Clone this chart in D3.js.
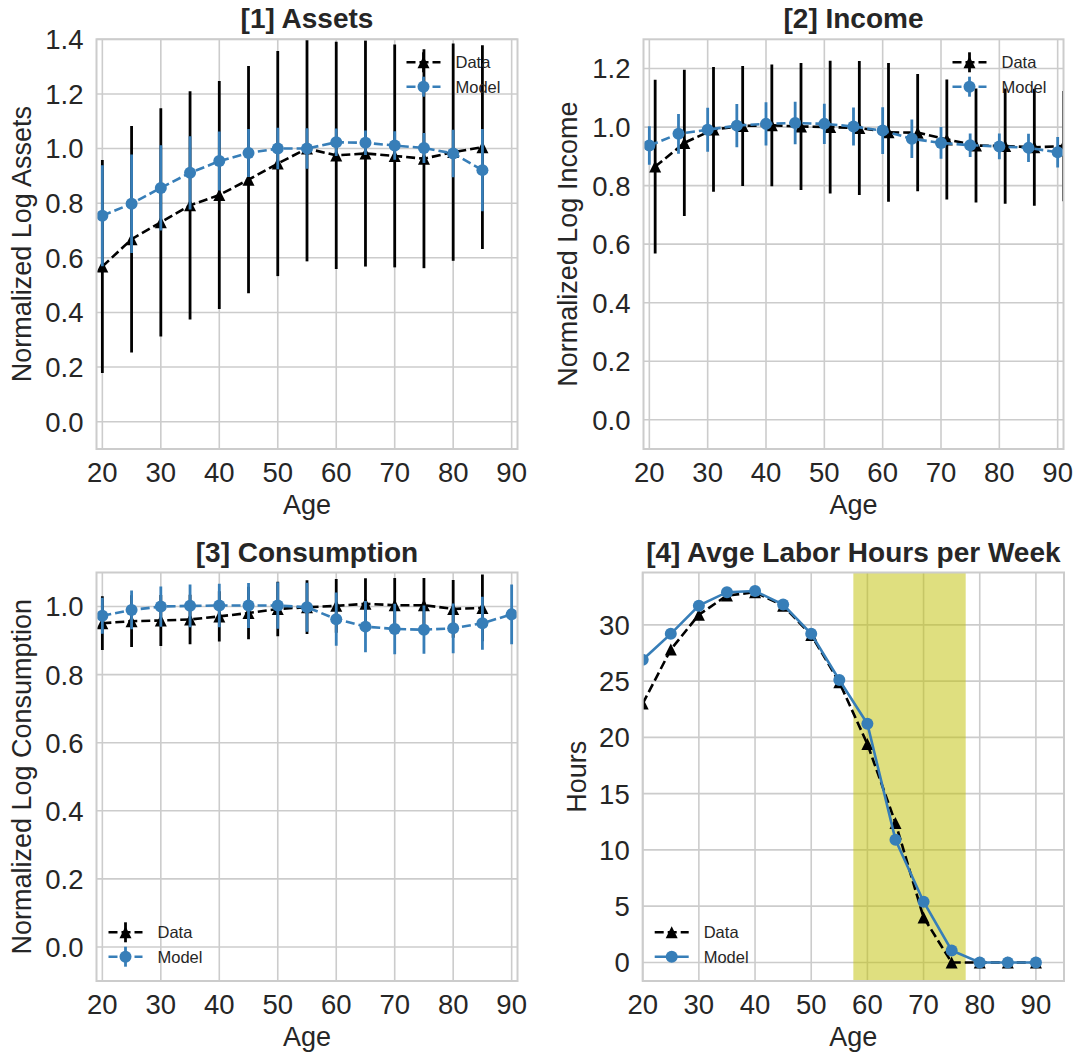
<!DOCTYPE html>
<html>
<head>
<meta charset="utf-8">
<script src="https://cdn.jsdelivr.net/npm/d3@7"></script>
<style>
  body { margin: 0; background: #fff; }
  text { font-family: "Liberation Sans", Arial, sans-serif; fill: #262626; }
</style>
</head>
<body>
<svg id="chart" width="1077" height="1053"></svg>
<script>
// ---- data ----
var ages = [20, 25, 30, 35, 40, 45, 50, 55, 60, 65, 70, 75, 80, 85];
var agesFull = [20, 25, 30, 35, 40, 45, 50, 55, 60, 65, 70, 75, 80, 85, 90];
var incomeDataAges = [21, 26, 31, 36, 41, 46, 51, 56, 61, 66, 71, 76, 81, 86, 91];
var xTicks = [20, 30, 40, 50, 60, 70, 80, 90];

var assetsData    = [0.568, 0.668, 0.730, 0.792, 0.830, 0.886, 0.945, 1.000, 0.975, 0.982, 0.973, 0.963, 0.987, 1.005];
var assetsDataErr = [0.390, 0.415, 0.418, 0.418, 0.417, 0.416, 0.412, 0.413, 0.416, 0.414, 0.408, 0.401, 0.398, 0.373];
var assetsModel    = [0.754, 0.798, 0.856, 0.911, 0.954, 0.984, 1.000, 1.000, 1.023, 1.021, 1.011, 1.002, 0.982, 0.921];
var assetsModelErr = [0.185, 0.180, 0.156, 0.134, 0.108, 0.088, 0.076, 0.074, 0.050, 0.045, 0.052, 0.055, 0.087, 0.151];
var assetsTicks = [0, 0.2, 0.4, 0.6, 0.8, 1.0, 1.2, 1.4];

var incomeData    = [0.865, 0.946, 0.992, 1.004, 1.006, 1.002, 1.000, 0.997, 0.982, 0.981, 0.958, 0.937, 0.935, 0.931, 0.935];
var incomeDataErr = [0.297, 0.250, 0.213, 0.205, 0.208, 0.217, 0.227, 0.229, 0.237, 0.200, 0.205, 0.195, 0.197, 0.200, 0.188];
var incomeModel    = [0.937, 0.977, 0.991, 1.005, 1.011, 1.014, 1.011, 1.002, 0.988, 0.960, 0.946, 0.938, 0.934, 0.929, 0.914];
var incomeModelErr = [0.066, 0.068, 0.075, 0.074, 0.074, 0.073, 0.069, 0.065, 0.080, 0.066, 0.054, 0.040, 0.044, 0.048, 0.052];
var incomeTicks = [0, 0.2, 0.4, 0.6, 0.8, 1.0, 1.2];

var consData    = [0.951, 0.957, 0.959, 0.962, 0.971, 0.981, 0.993, 0.998, 1.002, 1.008, 1.004, 1.004, 0.993, 0.996];
var consDataErr = [0.079, 0.076, 0.075, 0.073, 0.074, 0.077, 0.080, 0.079, 0.079, 0.075, 0.080, 0.080, 0.085, 0.098];
var consModel    = [0.973, 0.990, 1.000, 1.002, 1.003, 1.003, 1.003, 0.998, 0.963, 0.941, 0.934, 0.932, 0.936, 0.951, 0.977];
var consModelErr = [0.053, 0.057, 0.059, 0.063, 0.064, 0.066, 0.068, 0.072, 0.078, 0.075, 0.074, 0.071, 0.073, 0.078, 0.088];
var consTicks = [0, 0.2, 0.4, 0.6, 0.8, 1.0];

var hoursData  = [23.0, 27.8, 30.9, 32.6, 32.9, 31.7, 29.1, 24.9, 19.4, 12.4, 4.0, 0, 0, 0, 0];
var hoursModel = [26.9, 29.2, 31.7, 32.9, 33.0, 31.8, 29.2, 25.1, 21.2, 10.9, 5.4, 1.07, 0, 0, 0];
var hoursTicks = [0, 5, 10, 15, 20, 25, 30];
var retireSpan = [57.5, 77.5];

var seriesNames = ['Data', 'Model'];

// ---- style ----
var blue = '#377eb8';
var gridColor = '#cccccc';
var tickSize = '27.5px', labelSize = '27px', titleSize = '28px', legendSize = '16.5px';
var svg = d3.select('#chart');
svg.append('rect').attr('width', 1077).attr('height', 1053).attr('fill', '#fff');

function triPath(s) {
	return 'M0,' + (-s) + 'L' + s + ',' + s + 'L' + (-s) + ',' + s + 'Z';
}

var panelId = 0;
function drawPanel(cfg) {
	panelId++;
	var w = cfg.w, h = cfg.h;
	var g = svg.append('g').attr('transform', 'translate(' + cfg.left + ',' + cfg.top + ')');
	var x = d3.scaleLinear().domain(cfg.xDomain).range([0, w]);
	var y = d3.scaleLinear().domain(cfg.yDomain).range([h, 0]);

	var clipId = 'clip' + panelId;
	g.append('clipPath').attr('id', clipId)
		.append('rect').attr('width', w).attr('height', h);

	// grid
	g.append('g').selectAll('line').data(xTicks).enter().append('line')
		.attr('x1', function(d) { return x(d); }).attr('x2', function(d) { return x(d); })
		.attr('y1', 0).attr('y2', h)
		.attr('stroke', gridColor).attr('stroke-width', 1.6);
	g.append('g').selectAll('line').data(cfg.yTicks).enter().append('line')
		.attr('y1', function(d) { return y(d); }).attr('y2', function(d) { return y(d); })
		.attr('x1', 0).attr('x2', w)
		.attr('stroke', gridColor).attr('stroke-width', 1.6);

	// tick labels
	g.append('g').selectAll('text').data(xTicks).enter().append('text')
		.attr('x', function(d) { return x(d); }).attr('y', h + 33)
		.attr('text-anchor', 'middle').style('font-size', tickSize)
		.text(function(d) { return d; });
	g.append('g').selectAll('text').data(cfg.yTicks).enter().append('text')
		.attr('x', -13).attr('y', function(d) { return y(d); })
		.attr('dy', '0.36em')
		.attr('text-anchor', 'end').style('font-size', tickSize)
		.text(cfg.yFormat);

	// axis labels + title
	g.append('text').attr('x', w / 2).attr('y', h + 65)
		.attr('text-anchor', 'middle').style('font-size', labelSize).text('Age');
	g.append('text')
		.attr('transform', 'translate(' + (-cfg.yLabelOff) + ',' + (h / 2) + ') rotate(-90)')
		.attr('dy', '0.36em')
		.attr('text-anchor', 'middle').style('font-size', labelSize).text(cfg.yLabel);
	g.append('text').attr('x', w / 2).attr('y', -11)
		.attr('text-anchor', 'middle').style('font-size', titleSize).style('font-weight', 'bold')
		.text(cfg.title);

	var plot = g.append('g').attr('clip-path', 'url(#' + clipId + ')');

	if (cfg.span) {
		plot.append('rect')
			.attr('x', x(cfg.span[0])).attr('width', x(cfg.span[1]) - x(cfg.span[0]))
			.attr('y', 0).attr('height', h)
			.attr('fill', '#bfbf00').attr('opacity', 0.5);
	}

	// legend (drawn under the data, like the reference)
	var lg = g.append('g');
	var lx = cfg.legendPos === 'ur' ? w - 111 : 12;
	var ly = cfg.legendPos === 'ur' ? [23, 47.4] : [h - 48.7, h - 24.3];
	cfg.series.forEach(function(s, i) {
		lg.append('line').attr('x1', lx).attr('x2', lx + 34).attr('y1', ly[i]).attr('y2', ly[i])
			.attr('stroke', s.color).attr('stroke-width', 2.6)
			.attr('stroke-dasharray', s.dashed ? '9,4' : null);
		if (s.err) {
			lg.append('line').attr('x1', lx + 17).attr('x2', lx + 17)
				.attr('y1', ly[i] - 10).attr('y2', ly[i] + 10)
				.attr('stroke', s.color).attr('stroke-width', 2.8);
		}
		if (s.marker === 'tri') {
			lg.append('path').attr('d', triPath(6)).attr('fill', s.color)
				.attr('transform', 'translate(' + (lx + 17) + ',' + ly[i] + ')');
		} else {
			lg.append('circle').attr('cx', lx + 17).attr('cy', ly[i]).attr('r', 6).attr('fill', s.color);
		}
		lg.append('text').attr('x', lx + 49).attr('y', ly[i]).attr('dy', '0.36em')
			.style('font-size', legendSize).text(seriesNames[i]);
	});

	// series
	cfg.series.forEach(function(s) {
		var pts = s.xs.map(function(a, i) { return { a: a, v: s.ys[i], e: s.err ? s.err[i] : 0 }; });
		if (s.err) {
			plot.append('g').selectAll('line').data(pts).enter().append('line')
				.attr('x1', function(d) { return x(d.a); }).attr('x2', function(d) { return x(d.a); })
				.attr('y1', function(d) { return y(d.v - d.e); }).attr('y2', function(d) { return y(d.v + d.e); })
				.attr('stroke', s.color).attr('stroke-width', 2.8);
		}
		var line = d3.line().x(function(d) { return x(d.a); }).y(function(d) { return y(d.v); });
		plot.append('path').datum(pts).attr('d', line)
			.attr('fill', 'none').attr('stroke', s.color).attr('stroke-width', 2.6)
			.attr('stroke-dasharray', s.dashed ? '9,4' : null);
		if (s.marker === 'tri') {
			plot.append('g').selectAll('path').data(pts).enter().append('path')
				.attr('d', triPath(6)).attr('fill', s.color)
				.attr('transform', function(d) { return 'translate(' + x(d.a) + ',' + y(d.v) + ')'; });
		} else {
			plot.append('g').selectAll('circle').data(pts).enter().append('circle')
				.attr('cx', function(d) { return x(d.a); }).attr('cy', function(d) { return y(d.v); })
				.attr('r', 6).attr('fill', s.color);
		}
	});

	// frame
	g.append('rect').attr('width', w).attr('height', h)
		.attr('fill', 'none').attr('stroke', gridColor).attr('stroke-width', 2);
}

var f1 = d3.format('.1f');

drawPanel({
	left: 96.5, top: 39.3, w: 421, h: 409.7,
	xDomain: [19, 91], yDomain: [-0.1, 1.4], yTicks: assetsTicks, yFormat: f1,
	title: '[1] Assets', yLabel: 'Normalized Log Assets', yLabelOff: 75, legendPos: 'ur',
	series: [
		{ xs: ages, ys: assetsData, err: assetsDataErr, color: '#000', dashed: true, marker: 'tri' },
		{ xs: ages, ys: assetsModel, err: assetsModelErr, color: blue, dashed: true, marker: 'circle' }
	]
});

drawPanel({
	left: 643.5, top: 39.3, w: 420, h: 409.7,
	xDomain: [19, 91], yDomain: [-0.1, 1.3], yTicks: incomeTicks, yFormat: f1,
	title: '[2] Income', yLabel: 'Normalized Log Income', yLabelOff: 76, legendPos: 'ur',
	series: [
		{ xs: incomeDataAges, ys: incomeData, err: incomeDataErr, color: '#000', dashed: true, marker: 'tri' },
		{ xs: agesFull, ys: incomeModel, err: incomeModelErr, color: blue, dashed: true, marker: 'circle' }
	]
});

drawPanel({
	left: 96.5, top: 572.5, w: 421, h: 408.5,
	xDomain: [19, 91], yDomain: [-0.1, 1.1], yTicks: consTicks, yFormat: f1,
	title: '[3] Consumption', yLabel: 'Normalized Log Consumption', yLabelOff: 75, legendPos: 'll',
	series: [
		{ xs: ages, ys: consData, err: consDataErr, color: '#000', dashed: true, marker: 'tri' },
		{ xs: agesFull, ys: consModel, err: consModelErr, color: blue, dashed: true, marker: 'circle' }
	]
});

drawPanel({
	left: 642.7, top: 572.5, w: 421.3, h: 408.5,
	xDomain: [20, 95], yDomain: [-1.65, 34.65], yTicks: hoursTicks, yFormat: d3.format('d'),
	title: '[4] Avge Labor Hours per Week', yLabel: 'Hours', yLabelOff: 66, legendPos: 'll',
	span: retireSpan,
	series: [
		{ xs: agesFull, ys: hoursData, color: '#000', dashed: true, marker: 'tri' },
		{ xs: agesFull, ys: hoursModel, color: blue, dashed: false, marker: 'circle' }
	]
});
</script>
</body>
</html>
